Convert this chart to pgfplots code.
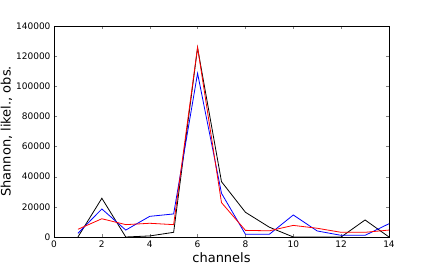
\documentclass[border=0pt]{standalone}
\usepackage{pgfplots}
\pgfplotsset{compat=1.18}
\usepackage{fontspec}
\setmainfont{DejaVu Sans}
\begin{document}
\begin{tikzpicture}[x=1pt,y=1pt]
\useasboundingbox (0,0) rectangle (432,264);
\begin{axis}[
  at={(54pt,27pt)}, anchor=south west,
  scale only axis, width=335pt, height=211pt,
  xmin=0, xmax=14, ymin=0, ymax=140000,
  xtick={0,2,...,14}, ytick={0,20000,...,140000},
  scaled y ticks=false,
  yticklabel style={/pgf/number format/fixed,/pgf/number format/1000 sep={}},
  /pgf/number format/assume math mode=true,
  tick label style={font=\fontsize{9}{10}\selectfont},
  tick align=inside, major tick length=3pt,
  xtick pos=both, ytick pos=both,
  xlabel={channels}, ylabel={Shannon, likel., obs.},
  label style={font=\fontsize{13}{14}\selectfont},
  xlabel style={yshift=2pt},
  ylabel style={yshift=-3pt},
  axis line style={black, line width=0.6pt},
  every axis plot/.append style={line width=0.8pt, mark=none},
]
\addplot[black] coordinates {(1,0) (2,25700) (3,0) (4,700) (5,3100) (6,125500) (7,36700) (8,16400) (9,6500) (10,0) (11,0) (12,0) (13,11300) (14,0)};
\addplot[blue] coordinates {(1,2400) (2,18600) (3,4600) (4,13700) (5,15300) (6,108600) (7,29000) (8,1800) (9,1800) (10,14600) (11,4000) (12,1100) (13,1100) (14,8800)};
\addplot[red] coordinates {(1,5100) (2,12100) (3,8200) (4,9100) (5,8200) (6,125900) (7,22800) (8,4400) (9,4100) (10,7700) (11,5800) (12,3100) (13,3100) (14,4600)};
\end{axis}
\end{tikzpicture}
\end{document}
